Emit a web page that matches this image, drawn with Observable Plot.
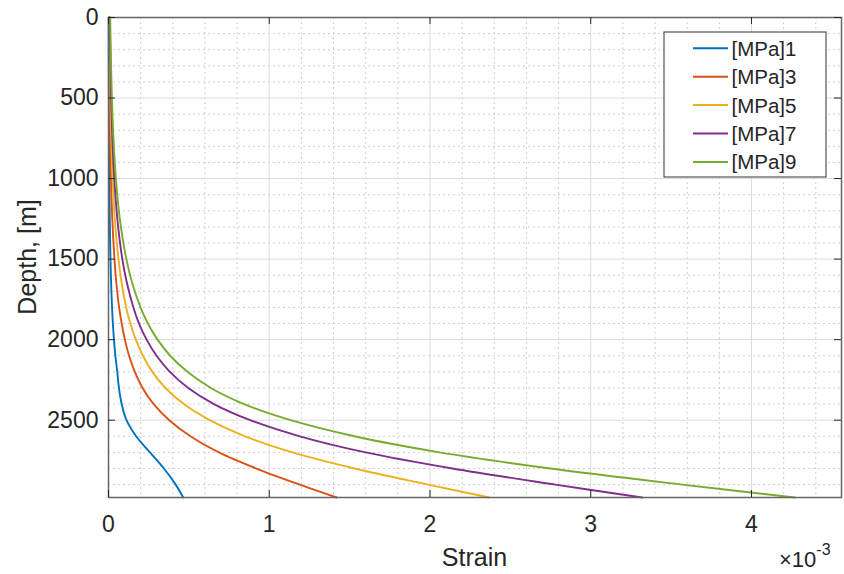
<!DOCTYPE html>
<html>
<head>
<meta charset="utf-8">
<script src="https://cdn.jsdelivr.net/npm/d3@7"></script>
<script src="https://cdn.jsdelivr.net/npm/@observablehq/plot@0.6"></script>
<style>
  html, body { margin: 0; padding: 0; background: #fff; }
  #chart { width: 844px; height: 574px; }
  svg text { font-family: "Liberation Sans", Arial, Helvetica, sans-serif; }
</style>
</head>
<body>
<div id="chart"></div>
<script>
// Depth samples (m), shared by every load case
const depths = [0, 250, 500, 750, 1000, 1250, 1500, 1650, 1800, 1900, 2000, 2100, 2200, 2300, 2400, 2500, 2600, 2700, 2800, 2900, 2980];

// Strain along the well, in units of 1e-3, one array per applied pressure
const strain1 = [0.0012, 0.0017, 0.0024, 0.0034, 0.0051, 0.0078, 0.0123, 0.0164, 0.0221, 0.0272, 0.0339, 0.0427, 0.0546, 0.065, 0.082, 0.112, 0.172, 0.258, 0.345, 0.418, 0.465];
const strain3 = [0.0035, 0.005, 0.0071, 0.0103, 0.0154, 0.0235, 0.037, 0.049, 0.066, 0.082, 0.102, 0.128, 0.164, 0.212, 0.281, 0.378, 0.51, 0.687, 0.92, 1.19, 1.42];
const strain5 = [0.0058, 0.0083, 0.0118, 0.0172, 0.0257, 0.039, 0.062, 0.082, 0.11, 0.136, 0.17, 0.214, 0.273, 0.354, 0.469, 0.63, 0.85, 1.145, 1.53, 1.99, 2.37];
const strain7 = [0.0082, 0.0116, 0.0165, 0.024, 0.036, 0.055, 0.086, 0.115, 0.155, 0.19, 0.237, 0.299, 0.382, 0.496, 0.656, 0.882, 1.19, 1.6, 2.14, 2.78, 3.32];
const strain9 = [0.0105, 0.015, 0.0212, 0.031, 0.046, 0.0706, 0.111, 0.148, 0.199, 0.245, 0.305, 0.384, 0.491, 0.637, 0.843, 1.134, 1.53, 2.06, 2.75, 3.57, 4.27];

const seriesNames = ["[MPa]1", "[MPa]3", "[MPa]5", "[MPa]7", "[MPa]9"];
const seriesColors = ["#0072BD", "#D95319", "#EDB120", "#7E2F8E", "#77AC30"];

// Axis ticks
const xTicks = [0, 1, 2, 3, 4];
const yTicks = [0, 500, 1000, 1500, 2000, 2500];
const xMax = 4.56;
const yMax = 2980;

const allStrains = [strain1, strain3, strain5, strain7, strain9];
const rows = seriesNames.flatMap((name, i) =>
  depths.map((d, j) => ({series: name, depth: d, strain: allStrains[i][j]}))
);

const W = 844, H = 574;
const mL = 108, mR = 3, mT = 17, mB = 77;
const plotW = W - mL - mR, plotH = H - mT - mB;
const tickLen = 7;
const axisColor = "#666";
const textColor = "#262626";

// Minor grid every 0.2e-3 strain and every 100 m of depth
const xMinor = d3.range(1, Math.floor(xMax * 5) + 1).filter(i => i % 5 !== 0).map(i => i / 5);
const yMinor = d3.range(1, Math.floor(yMax / 100) + 1).filter(i => i % 5 !== 0).map(i => i * 100);

const chart = Plot.plot({
  width: W,
  height: H,
  marginLeft: mL,
  marginRight: mR,
  marginTop: mT,
  marginBottom: mB,
  style: {fontFamily: "'Liberation Sans', Arial, sans-serif", color: textColor, background: "#fff"},
  x: {domain: [0, xMax]},
  y: {domain: [0, yMax], reverse: true},
  color: {domain: seriesNames, range: seriesColors},
  marks: [
    Plot.gridX({ticks: xMinor, stroke: "#cfcfcf", strokeOpacity: 1, strokeDasharray: "2,3", strokeWidth: 1}),
    Plot.gridY({ticks: yMinor, stroke: "#cfcfcf", strokeOpacity: 1, strokeDasharray: "2,3", strokeWidth: 1}),
    Plot.gridX({ticks: xTicks, stroke: "#dcdcdc", strokeOpacity: 1, strokeWidth: 1}),
    Plot.gridY({ticks: yTicks, stroke: "#dcdcdc", strokeOpacity: 1, strokeWidth: 1}),
    Plot.line(rows, {x: "strain", y: "depth", z: "series", stroke: "series", strokeWidth: 1.9, curve: "catmull-rom"}),
    Plot.frame({stroke: axisColor, strokeWidth: 1.5}),
    // inward ticks on all four sides
    Plot.tickX(xTicks, {x: d => d, insetTop: plotH - tickLen, stroke: textColor, strokeWidth: 1}),
    Plot.tickX(xTicks, {x: d => d, insetBottom: plotH - tickLen, stroke: textColor, strokeWidth: 1}),
    Plot.tickY(yTicks, {y: d => d, insetRight: plotW - tickLen, stroke: textColor, strokeWidth: 1}),
    Plot.tickY(yTicks, {y: d => d, insetLeft: plotW - tickLen, stroke: textColor, strokeWidth: 1}),
    Plot.axisX({ticks: xTicks, anchor: "bottom", tickSize: 0, tickPadding: 18, fontSize: 23, label: null, tickFormat: d => String(d), fill: textColor}),
    Plot.axisY({ticks: yTicks, anchor: "left", tickSize: 0, tickPadding: 10, fontSize: 23, label: null, tickFormat: d => String(d), fill: textColor})
  ]
});

document.getElementById("chart").appendChild(chart);

const svg = d3.select(chart);

// Axis titles
svg.append("text")
  .attr("x", mL + plotW / 2).attr("y", 566)
  .attr("text-anchor", "middle")
  .attr("font-size", 25).attr("fill", textColor)
  .text("Strain");

svg.append("text")
  .attr("transform", `translate(27,${mT + plotH / 2}) rotate(-90)`)
  .attr("text-anchor", "middle").attr("dominant-baseline", "central")
  .attr("font-size", 25).attr("fill", textColor)
  .text("Depth, [m]");

// Exponent of the strain axis
const expo = svg.append("text")
  .attr("x", 779).attr("y", 567)
  .attr("text-anchor", "start")
  .attr("font-size", 22).attr("fill", textColor);
expo.append("tspan").text("×10");
expo.append("tspan").attr("dy", -12).attr("font-size", 16).text("-3");

// Legend box
const lg = svg.append("g");
const lgX = 664, lgY = 32, lgW = 162, lgH = 145, rowH = 28.4, row0 = 48.3;
lg.append("rect")
  .attr("x", lgX).attr("y", lgY).attr("width", lgW).attr("height", lgH)
  .attr("fill", "#fff").attr("stroke", "#333").attr("stroke-width", 1);
seriesNames.forEach((name, i) => {
  const cy = row0 + i * rowH;
  lg.append("line")
    .attr("x1", 693).attr("x2", 728).attr("y1", cy).attr("y2", cy)
    .attr("stroke", seriesColors[i]).attr("stroke-width", 2);
  lg.append("text")
    .attr("x", 731.5).attr("y", cy)
    .attr("text-anchor", "start")
    .attr("dominant-baseline", "central")
    .attr("font-size", 20.5).attr("fill", textColor)
    .text(name);
});
</script>
</body>
</html>
